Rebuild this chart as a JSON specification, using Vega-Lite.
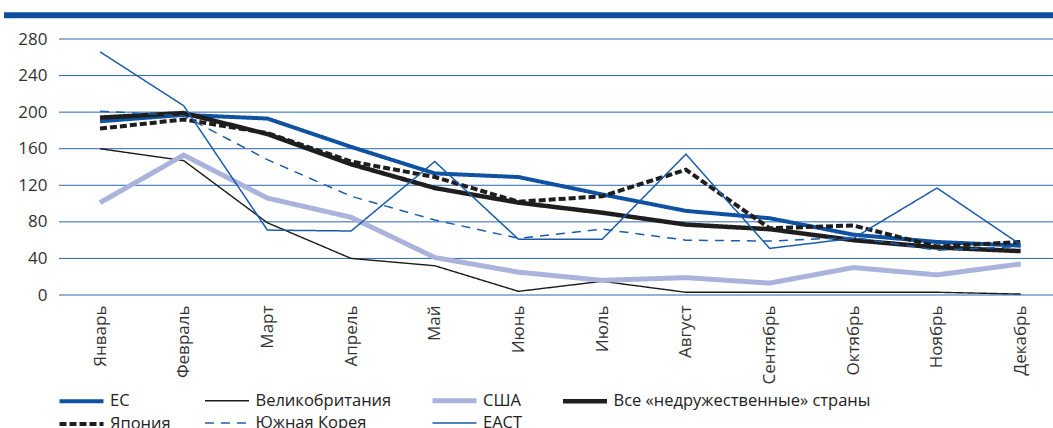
{
  "$schema": "https://vega.github.io/schema/vega-lite/v6.json",
  "width": 1049,
  "height": 256,
  "autosize": {"type": "none"},
  "padding": {"left": 4, "top": 39, "right": 0, "bottom": 133},
  "background": "white",
  "config": {
    "view": {"stroke": null},
    "font": "Open Sans",
    "axis": {
      "labelFont": "Open Sans",
      "labelFontSize": 17,
      "labelColor": "#333333",
      "labelOverlap": false,
      "domain": false,
      "ticks": false,
      "grid": false
    },
    "legend": {
      "orient": "none",
      "legendX": 64,
      "legendY": 348,
      "direction": "horizontal",
      "columns": 4,
      "title": null,
      "padding": 0,
      "symbolType": "M-2,0H2",
      "symbolSize": 484,
      "labelFont": "Open Sans",
      "labelFontSize": 16.5,
      "labelColor": "#222222",
      "labelOffset": 15,
      "labelLimit": 500,
      "columnPadding": 30.5,
      "rowPadding": 0
    }
  },
  "resolve": {"axis": {"x": "independent", "y": "independent"}},
  "layer": [
    {
      "data": {"values": [{"g": 0}, {"g": 40}, {"g": 80}, {"g": 120}, {"g": 160}, {"g": 200}, {"g": 240}, {"g": 280}]},
      "mark": {"type": "rule", "color": "#2a65b2", "strokeWidth": 1},
      "encoding": {
        "x": {"datum": 0.51, "type": "quantitative", "axis": null},
        "x2": {"datum": 12.386},
        "y": {"field": "g", "type": "quantitative", "axis": null}
      }
    },
    {
      "data": {"values": [{"b": 306}]},
      "mark": {"type": "rule", "color": "#0d4f9e", "strokeWidth": 6},
      "encoding": {
        "x": {"datum": -0.147, "type": "quantitative", "axis": null},
        "x2": {"datum": 12.386},
        "y": {"field": "b", "type": "quantitative", "axis": null}
      }
    },
    {
      "data": {
        "values": [
          {"m": 1, "s": "ЕС", "v": 190}, {"m": 2, "s": "ЕС", "v": 197}, {"m": 3, "s": "ЕС", "v": 193}, {"m": 4, "s": "ЕС", "v": 162},
          {"m": 5, "s": "ЕС", "v": 133}, {"m": 6, "s": "ЕС", "v": 129}, {"m": 7, "s": "ЕС", "v": 110}, {"m": 8, "s": "ЕС", "v": 92},
          {"m": 9, "s": "ЕС", "v": 84}, {"m": 10, "s": "ЕС", "v": 66}, {"m": 11, "s": "ЕС", "v": 58}, {"m": 12, "s": "ЕС", "v": 54},
          {"m": 1, "s": "Великобритания", "v": 160}, {"m": 2, "s": "Великобритания", "v": 147}, {"m": 3, "s": "Великобритания", "v": 79}, {"m": 4, "s": "Великобритания", "v": 40},
          {"m": 5, "s": "Великобритания", "v": 32}, {"m": 6, "s": "Великобритания", "v": 4}, {"m": 7, "s": "Великобритания", "v": 15}, {"m": 8, "s": "Великобритания", "v": 3},
          {"m": 9, "s": "Великобритания", "v": 3}, {"m": 10, "s": "Великобритания", "v": 3}, {"m": 11, "s": "Великобритания", "v": 3}, {"m": 12, "s": "Великобритания", "v": 1},
          {"m": 1, "s": "США", "v": 101}, {"m": 2, "s": "США", "v": 153}, {"m": 3, "s": "США", "v": 106}, {"m": 4, "s": "США", "v": 85},
          {"m": 5, "s": "США", "v": 41}, {"m": 6, "s": "США", "v": 25}, {"m": 7, "s": "США", "v": 16}, {"m": 8, "s": "США", "v": 19},
          {"m": 9, "s": "США", "v": 13}, {"m": 10, "s": "США", "v": 30}, {"m": 11, "s": "США", "v": 22}, {"m": 12, "s": "США", "v": 34},
          {"m": 1, "s": "Все «недружественные» страны", "v": 194}, {"m": 2, "s": "Все «недружественные» страны", "v": 199}, {"m": 3, "s": "Все «недружественные» страны", "v": 176}, {"m": 4, "s": "Все «недружественные» страны", "v": 143},
          {"m": 5, "s": "Все «недружественные» страны", "v": 117}, {"m": 6, "s": "Все «недружественные» страны", "v": 101}, {"m": 7, "s": "Все «недружественные» страны", "v": 90}, {"m": 8, "s": "Все «недружественные» страны", "v": 77},
          {"m": 9, "s": "Все «недружественные» страны", "v": 72}, {"m": 10, "s": "Все «недружественные» страны", "v": 60}, {"m": 11, "s": "Все «недружественные» страны", "v": 52}, {"m": 12, "s": "Все «недружественные» страны", "v": 48},
          {"m": 1, "s": "Япония", "v": 182}, {"m": 2, "s": "Япония", "v": 192}, {"m": 3, "s": "Япония", "v": 177}, {"m": 4, "s": "Япония", "v": 146},
          {"m": 5, "s": "Япония", "v": 129}, {"m": 6, "s": "Япония", "v": 102}, {"m": 7, "s": "Япония", "v": 108}, {"m": 8, "s": "Япония", "v": 137},
          {"m": 9, "s": "Япония", "v": 73}, {"m": 10, "s": "Япония", "v": 76}, {"m": 11, "s": "Япония", "v": 53}, {"m": 12, "s": "Япония", "v": 58},
          {"m": 1, "s": "Южная Корея", "v": 201}, {"m": 2, "s": "Южная Корея", "v": 196}, {"m": 3, "s": "Южная Корея", "v": 148}, {"m": 4, "s": "Южная Корея", "v": 108},
          {"m": 5, "s": "Южная Корея", "v": 82}, {"m": 6, "s": "Южная Корея", "v": 62}, {"m": 7, "s": "Южная Корея", "v": 72}, {"m": 8, "s": "Южная Корея", "v": 60},
          {"m": 9, "s": "Южная Корея", "v": 59}, {"m": 10, "s": "Южная Корея", "v": 63}, {"m": 11, "s": "Южная Корея", "v": 49}, {"m": 12, "s": "Южная Корея", "v": 53},
          {"m": 1, "s": "ЕАСТ", "v": 266}, {"m": 2, "s": "ЕАСТ", "v": 207}, {"m": 3, "s": "ЕАСТ", "v": 71}, {"m": 4, "s": "ЕАСТ", "v": 70},
          {"m": 5, "s": "ЕАСТ", "v": 146}, {"m": 6, "s": "ЕАСТ", "v": 61}, {"m": 7, "s": "ЕАСТ", "v": 61}, {"m": 8, "s": "ЕАСТ", "v": 154},
          {"m": 9, "s": "ЕАСТ", "v": 51}, {"m": 10, "s": "ЕАСТ", "v": 62}, {"m": 11, "s": "ЕАСТ", "v": 117}, {"m": 12, "s": "ЕАСТ", "v": 55}
        ]
      },
      "mark": {"type": "line", "strokeJoin": "miter", "strokeCap": "butt"},
      "encoding": {
        "x": {
          "field": "m", "type": "quantitative", "title": null,
          "scale": {"domain": [-0.147, 12.386], "nice": false, "zero": false},
          "axis": {
            "orient": "bottom",
            "values": [1, 2, 3, 4, 5, 6, 7, 8, 9, 10, 11, 12],
            "labelExpr": "['Январь','Февраль','Март','Апрель','Май','Июнь','Июль','Август','Сентябрь','Октябрь','Ноябрь','Декабрь'][datum.value-1]",
            "labelAngle": 270,
            "labelFontSize": 17,
            "labelPadding": 10,
            "labelOverlap": false,
            "labelBound": false,
            "labelFlush": false
          }
        },
        "y": {
          "field": "v", "type": "quantitative", "title": null,
          "scale": {"domain": [0, 280], "nice": false},
          "axis": {
            "orient": "left",
            "values": [0, 40, 80, 120, 160, 200, 240, 280],
            "offset": -55,
            "labelFontSize": 17,
            "labelPadding": 12,
            "labelOverlap": false,
            "labelFlush": false
          }
        },
        "color": {
          "field": "s", "type": "nominal",
          "scale": {
            "domain": ["ЕС", "Великобритания", "США", "Все «недружественные» страны", "Япония", "Южная Корея", "ЕАСТ"],
            "range": ["#0f52a2", "#1a1a1a", "#aab3dc", "#1e1e1e", "#1e1e1e", "#1a5ca8", "#1a5ca8"]
          }
        },
        "strokeWidth": {
          "field": "s", "type": "nominal",
          "scale": {
            "type": "ordinal",
            "domain": ["ЕС", "Великобритания", "США", "Все «недружественные» страны", "Япония", "Южная Корея", "ЕАСТ"],
            "range": [4, 1.4, 5, 4.5, 4, 1.5, 1.5]
          }
        },
        "strokeDash": {
          "field": "s", "type": "nominal",
          "scale": {
            "domain": ["ЕС", "Великобритания", "США", "Все «недружественные» страны", "Япония", "Южная Корея", "ЕАСТ"],
            "range": [[1, 0], [1, 0], [1, 0], [1, 0], [7, 3], [9, 7], [1, 0]]
          }
        },
        "order": {"field": "m", "type": "quantitative"}
      }
    }
  ]
}
